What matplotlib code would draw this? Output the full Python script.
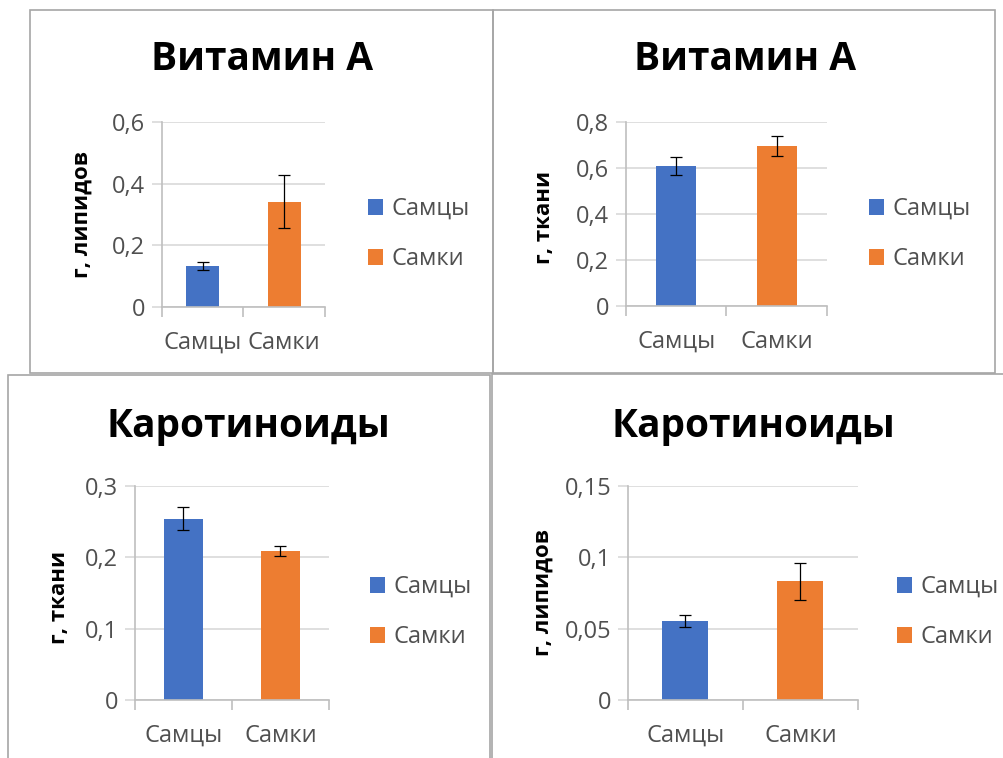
import numpy as np
import matplotlib
matplotlib.use('Agg')
import matplotlib.pyplot as plt
from matplotlib.patches import Rectangle
from matplotlib.ticker import MultipleLocator, FuncFormatter, FixedLocator

plt.rcParams['font.family'] = ['Open Sans', 'DejaVu Sans']

W, H = 1004, 758

# data
titles = ['Витамин А', 'Витамин А', 'Каротиноиды', 'Каротиноиды']
ylabels = ['г, липидов', 'г, ткани', 'г, ткани', 'г, липидов']
categories = ['Самцы', 'Самки']
males = [0.133, 0.61, 0.254, 0.0554]
females = [0.342, 0.694, 0.209, 0.0832]
males_err = [0.012, 0.04, 0.016, 0.004]
females_err = [0.087, 0.043, 0.0075, 0.013]
ymax = [0.6, 0.8, 0.3, 0.15]
ystep = [0.2, 0.2, 0.1, 0.05]

# layout in pixels: axes (x0, x1, ytop, ybot), border (x0, y0, x1, y1),
# title center, legend (square left, middle y), ylabel center
ax_px = [(162, 325, 122, 307), (626, 827, 122, 306),
         (135, 329, 486, 700), (628, 858, 486, 700)]
border_px = [(30, 10, 493, 373), (493, 10, 995, 373),
             (8, 375, 490, 762), (492, 374, 1010, 762)]
title_px = [(262, 60), (745, 60), (248, 427), (753, 427)]
legend_px = [(368, 234), (869, 234), (370, 612), (897, 612)]
ylab_px = [(82, 215), (545, 217), (60, 597), (543, 593)]

blue = '#4472C4'
orange = '#ED7D31'
grid_c = '#d9d9d9'
axis_c = '#bfbfbf'
text_c = '#505050'
fs = 17


def fx(x):
  return x / W


def fy(y):
  return 1 - y / H


def comma(v, pos):
  return ('%g' % round(v, 4)).replace('.', ',')


fig = plt.figure(figsize=(W / 100, H / 100), dpi=100)

for i in range(4):
  bx0, by0, bx1, by1 = border_px[i]
  fig.add_artist(Rectangle((fx(bx0), fy(by1)), fx(bx1 - bx0), (by1 - by0) / H,
                           transform=fig.transFigure, fill=False,
                           edgecolor='#a6a6a6', linewidth=1.2))

  x0, x1, yt, yb = ax_px[i]
  ax = fig.add_axes([fx(x0), fy(yb), fx(x1 - x0), (yb - yt) / H])
  b1 = ax.bar(0, males[i], 0.4, color=blue, label=categories[0], zorder=2)
  b2 = ax.bar(1, females[i], 0.4, color=orange, label=categories[1], zorder=2)
  ax.errorbar([0, 1], [males[i], females[i]],
              yerr=[males_err[i], females_err[i]], fmt='none',
              ecolor='black', elinewidth=0.9, capsize=4.5, capthick=0.9,
              zorder=3)
  ax.set_xlim(-0.5, 1.5)
  ax.set_ylim(0, ymax[i])
  ax.yaxis.set_major_locator(MultipleLocator(ystep[i]))
  ax.yaxis.set_major_formatter(FuncFormatter(comma))
  ax.set_xticks([0, 1])
  ax.set_xticklabels(categories)
  ax.xaxis.set_minor_locator(FixedLocator([-0.5, 0.5, 1.5]))
  ax.tick_params(axis='x', which='major', length=0, pad=17,
                 labelsize=fs, labelcolor=text_c)
  ax.tick_params(axis='x', which='minor', length=7, width=1.2,
                 color=axis_c, direction='out')
  ax.tick_params(axis='y', length=7, width=1.2, color=grid_c,
                 labelsize=fs, labelcolor=text_c, pad=5)
  ax.grid(axis='y', color=grid_c, linewidth=1.2, zorder=0)
  for s in ['top', 'right']:
    ax.spines[s].set_visible(False)
  for s in ['left', 'bottom']:
    ax.spines[s].set_color(axis_c)
    ax.spines[s].set_linewidth(1.2)

  fig.text(fx(title_px[i][0]), fy(title_px[i][1]), titles[i],
           ha='center', va='center', fontsize=28, fontweight='bold')
  fig.text(fx(ylab_px[i][0]), fy(ylab_px[i][1]), ylabels[i],
           ha='center', va='center', rotation=90, fontsize=16,
           fontweight='bold')

  lx, ly = legend_px[i]
  ax.legend(handles=[b1, b2], loc='center left',
            bbox_to_anchor=(fx(lx), fy(ly)), bbox_transform=fig.transFigure,
            frameon=False, fontsize=fs, handlelength=0.65, handleheight=0.65,
            handletextpad=0.35, labelspacing=1.1, borderpad=0,
            borderaxespad=0, labelcolor=text_c)

plt.savefig('out.png', dpi=100)
plt.close()
